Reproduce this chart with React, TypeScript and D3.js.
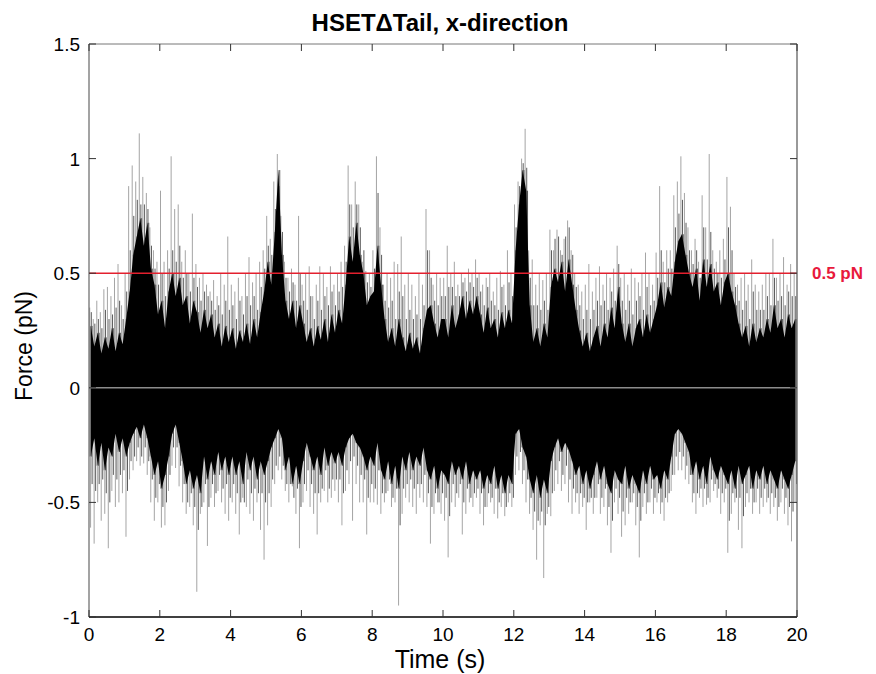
import React from "react";
import * as d3 from "d3";

const BIN_S = 0.1;
const xTicks = [0, 2, 4, 6, 8, 10, 12, 14, 16, 18, 20];
const yTicks = [-1, -0.5, 0, 0.5, 1, 1.5];
const yTickLabels = ["-1", "-0.5", "0", "0.5", "1", "1.5"];
const threshold = 0.5;

// dense core envelope (upper / lower) per 0.1 s bin
const coreHi = [
  0.27, 0.18, 0.24, 0.15, 0.22, 0.17, 0.26, 0.16, 0.24, 0.19,
  0.3, 0.42, 0.58, 0.66, 0.74, 0.62, 0.72, 0.52, 0.45, 0.32,
  0.38, 0.26, 0.42, 0.5, 0.4, 0.48, 0.36, 0.4, 0.28, 0.38,
  0.33, 0.24, 0.34, 0.26, 0.32, 0.22, 0.28, 0.18, 0.27, 0.2,
  0.26, 0.17, 0.25, 0.2, 0.28, 0.19, 0.3, 0.22, 0.33, 0.42,
  0.55, 0.45, 0.68, 0.95, 0.58, 0.38, 0.3, 0.38, 0.26, 0.36,
  0.28, 0.2, 0.26, 0.18, 0.27, 0.21, 0.3, 0.2, 0.32, 0.24,
  0.34, 0.28, 0.45, 0.66, 0.55, 0.72, 0.58, 0.5, 0.36, 0.4,
  0.42, 0.62, 0.45, 0.3, 0.2, 0.26, 0.18, 0.3, 0.22, 0.16,
  0.24, 0.17, 0.22, 0.15, 0.26, 0.34, 0.36, 0.28, 0.22, 0.3,
  0.3, 0.22, 0.36, 0.26, 0.32, 0.4, 0.3, 0.38, 0.32, 0.4,
  0.32, 0.24, 0.35, 0.26, 0.3, 0.22, 0.33, 0.26, 0.34, 0.28,
  0.6, 0.8, 0.95, 0.86, 0.36, 0.2, 0.26, 0.18, 0.28, 0.22,
  0.44, 0.52, 0.46, 0.55, 0.42, 0.56, 0.45, 0.34, 0.25, 0.18,
  0.24, 0.16, 0.22, 0.27, 0.18, 0.28, 0.22, 0.35, 0.26, 0.44,
  0.28, 0.2, 0.28, 0.18, 0.26, 0.3, 0.22, 0.32, 0.24, 0.3,
  0.36, 0.46, 0.35, 0.44, 0.4, 0.55, 0.64, 0.67, 0.58, 0.5,
  0.44, 0.52, 0.38, 0.56, 0.44, 0.54, 0.42, 0.46, 0.36, 0.46,
  0.5, 0.42, 0.36, 0.28, 0.22, 0.27, 0.18, 0.28, 0.2, 0.26,
  0.22, 0.3, 0.24, 0.36, 0.26, 0.3, 0.22, 0.32, 0.26, 0.3,
];
const coreLo = [
  -0.3, -0.22, -0.34, -0.24, -0.36, -0.26, -0.3, -0.2, -0.28, -0.22,
  -0.3, -0.24, -0.2, -0.17, -0.22, -0.16, -0.22, -0.3, -0.38, -0.32,
  -0.44, -0.38, -0.3, -0.2, -0.16, -0.24, -0.32, -0.42, -0.36, -0.44,
  -0.38, -0.46, -0.3, -0.4, -0.32, -0.38, -0.28, -0.36, -0.3, -0.38,
  -0.3, -0.38, -0.32, -0.42, -0.28, -0.36, -0.3, -0.4, -0.32, -0.38,
  -0.32, -0.26, -0.22, -0.18, -0.22, -0.36, -0.3, -0.42, -0.34, -0.42,
  -0.32, -0.24, -0.3, -0.36, -0.3, -0.38, -0.26, -0.34, -0.28, -0.33,
  -0.28, -0.34, -0.26, -0.22, -0.2, -0.24, -0.26, -0.3, -0.36, -0.3,
  -0.34, -0.24, -0.36, -0.4, -0.32, -0.42, -0.34, -0.44, -0.3, -0.36,
  -0.28, -0.36, -0.3, -0.34, -0.26, -0.36, -0.4, -0.34, -0.44, -0.36,
  -0.38, -0.42, -0.32, -0.38, -0.34, -0.4, -0.32, -0.42, -0.36, -0.4,
  -0.36, -0.44, -0.38, -0.42, -0.34, -0.44, -0.38, -0.46, -0.38, -0.42,
  -0.2, -0.18, -0.26, -0.3, -0.4, -0.46, -0.38, -0.48, -0.4, -0.46,
  -0.32, -0.26, -0.22, -0.28, -0.24, -0.27, -0.32, -0.38, -0.34, -0.42,
  -0.36, -0.44, -0.38, -0.32, -0.4, -0.34, -0.42, -0.46, -0.36, -0.4,
  -0.42, -0.34, -0.44, -0.38, -0.42, -0.46, -0.36, -0.42, -0.34, -0.4,
  -0.38, -0.44, -0.36, -0.4, -0.3, -0.2, -0.18, -0.2, -0.24, -0.28,
  -0.38, -0.32, -0.4, -0.34, -0.42, -0.3, -0.36, -0.4, -0.34, -0.38,
  -0.42, -0.36, -0.44, -0.34, -0.42, -0.38, -0.34, -0.44, -0.36, -0.4,
  -0.34, -0.42, -0.36, -0.4, -0.44, -0.36, -0.4, -0.44, -0.38, -0.32,
];
// frequent mid-length excursions per bin
const hairHi = [
  0.33, 0.28, 0.3, 0.26, 0.34, 0.3, 0.32, 0.35, 0.38, 0.3,
  0.42, 0.6, 0.75, 0.82, 0.8, 0.8, 0.78, 0.62, 0.52, 0.45,
  0.5, 0.4, 0.52, 0.6, 0.55, 0.62, 0.48, 0.5, 0.42, 0.48,
  0.44, 0.38, 0.42, 0.4, 0.38, 0.34, 0.36, 0.32, 0.38, 0.34,
  0.36, 0.3, 0.38, 0.32, 0.4, 0.36, 0.4, 0.34, 0.44, 0.52,
  0.62, 0.58, 0.78, 0.88, 0.68, 0.48, 0.42, 0.46, 0.38, 0.5,
  0.38, 0.34, 0.4, 0.3, 0.38, 0.34, 0.4, 0.36, 0.42, 0.36,
  0.42, 0.44, 0.55, 0.8, 0.7, 0.8, 0.7, 0.6, 0.46, 0.44,
  0.52, 0.85, 0.58, 0.38, 0.35, 0.38, 0.3, 0.42, 0.4, 0.3,
  0.34, 0.3, 0.32, 0.3, 0.36, 0.6, 0.48, 0.38, 0.36, 0.4,
  0.4, 0.44, 0.44, 0.4, 0.4, 0.46, 0.42, 0.46, 0.44, 0.48,
  0.42, 0.36, 0.44, 0.38, 0.36, 0.34, 0.44, 0.36, 0.46, 0.4,
  0.7, 0.88, 0.98, 0.96, 0.48, 0.36, 0.36, 0.34, 0.38, 0.34,
  0.6, 0.65, 0.66, 0.58, 0.66, 0.7, 0.58, 0.44, 0.36, 0.3,
  0.34, 0.3, 0.34, 0.38, 0.36, 0.38, 0.34, 0.42, 0.38, 0.54,
  0.38, 0.34, 0.38, 0.32, 0.38, 0.4, 0.34, 0.44, 0.36, 0.38,
  0.48, 0.6, 0.46, 0.52, 0.52, 0.7, 0.76, 0.82, 0.72, 0.6,
  0.54, 0.6, 0.48, 0.7, 0.56, 0.68, 0.52, 0.5, 0.48, 0.56,
  0.7, 0.6, 0.44, 0.38, 0.34, 0.38, 0.3, 0.42, 0.34, 0.34,
  0.34, 0.4, 0.36, 0.48, 0.38, 0.4, 0.36, 0.42, 0.4, 0.4,
];
const hairLo = [
  -0.42, -0.45, -0.42, -0.4, -0.46, -0.5, -0.38, -0.4, -0.38, -0.36,
  -0.45, -0.32, -0.3, -0.26, -0.3, -0.26, -0.32, -0.4, -0.48, -0.42,
  -0.52, -0.5, -0.38, -0.26, -0.26, -0.34, -0.42, -0.5, -0.46, -0.52,
  -0.62, -0.52, -0.42, -0.52, -0.42, -0.46, -0.38, -0.44, -0.42, -0.48,
  -0.42, -0.46, -0.5, -0.5, -0.4, -0.46, -0.44, -0.46, -0.46, -0.5,
  -0.46, -0.4, -0.34, -0.3, -0.34, -0.42, -0.42, -0.48, -0.44, -0.52,
  -0.42, -0.36, -0.42, -0.46, -0.46, -0.44, -0.36, -0.44, -0.4, -0.4,
  -0.4, -0.46, -0.36, -0.32, -0.3, -0.34, -0.38, -0.4, -0.48, -0.42,
  -0.44, -0.36, -0.46, -0.46, -0.4, -0.48, -0.44, -0.6, -0.44, -0.42,
  -0.4, -0.44, -0.42, -0.42, -0.38, -0.46, -0.52, -0.46, -0.5, -0.46,
  -0.48, -0.56, -0.42, -0.46, -0.42, -0.5, -0.44, -0.48, -0.46, -0.44,
  -0.46, -0.52, -0.46, -0.48, -0.44, -0.5, -0.46, -0.52, -0.46, -0.48,
  -0.3, -0.28, -0.36, -0.4, -0.48, -0.54, -0.58, -0.54, -0.6, -0.52,
  -0.46, -0.36, -0.32, -0.38, -0.34, -0.4, -0.44, -0.46, -0.46, -0.48,
  -0.5, -0.48, -0.48, -0.42, -0.48, -0.44, -0.52, -0.58, -0.44, -0.48,
  -0.54, -0.48, -0.5, -0.46, -0.52, -0.58, -0.46, -0.5, -0.44, -0.48,
  -0.46, -0.5, -0.48, -0.46, -0.38, -0.3, -0.28, -0.3, -0.34, -0.38,
  -0.46, -0.46, -0.44, -0.44, -0.48, -0.4, -0.42, -0.44, -0.46, -0.44,
  -0.58, -0.46, -0.48, -0.48, -0.56, -0.46, -0.44, -0.5, -0.44, -0.48,
  -0.44, -0.48, -0.46, -0.48, -0.52, -0.44, -0.48, -0.52, -0.54, -0.42,
];
// sparse extreme excursions per bin
const spikeHi = [
  0.35, 0.3, 0.38, 0.33, 0.43, 0.44, 0.4, 0.48, 0.54, 0.36,
  0.5, 0.88, 0.97, 0.9, 1.11, 0.92, 0.85, 0.7, 0.6, 0.55,
  0.86, 0.55, 0.6, 1.01, 0.78, 0.8, 0.55, 0.6, 0.5, 0.76,
  0.54, 0.48, 0.5, 0.45, 0.42, 0.47, 0.4, 0.5, 0.45, 0.66,
  0.45, 0.42, 0.48, 0.4, 0.5, 0.57, 0.46, 0.5, 0.55, 0.6,
  0.75, 0.65, 0.9, 1.02, 0.75, 0.55, 0.48, 0.52, 0.45, 0.75,
  0.45, 0.5, 0.53, 0.4, 0.45, 0.53, 0.5, 0.44, 0.53, 0.45,
  0.5, 0.55, 0.62, 0.97, 0.8, 0.9, 0.8, 0.55, 0.51, 0.5,
  0.6, 1.01, 0.7, 0.45, 0.5, 0.48, 0.55, 0.54, 0.66, 0.45,
  0.5, 0.45, 0.4, 0.5, 0.45, 0.78, 0.6, 0.45, 0.5, 0.48,
  0.48, 0.62, 0.5, 0.55, 0.45, 0.5, 0.48, 0.52, 0.5, 0.56,
  0.5, 0.45, 0.48, 0.5, 0.42, 0.48, 0.51, 0.45, 0.6, 0.5,
  0.8, 0.9, 1.0, 1.13, 0.6, 0.56, 0.45, 0.5, 0.47, 0.5,
  0.69, 0.6, 0.69, 0.6, 0.65, 0.73, 0.6, 0.5, 0.45, 0.42,
  0.45, 0.54, 0.42, 0.48, 0.53, 0.45, 0.5, 0.48, 0.52, 0.62,
  0.48, 0.5, 0.45, 0.52, 0.48, 0.46, 0.5, 0.59, 0.5, 0.45,
  0.59, 0.88, 0.55, 0.6, 0.6, 0.84, 0.9, 1.01, 0.85, 0.7,
  0.6, 0.65, 0.55, 0.84, 0.7, 1.02, 0.6, 0.55, 0.6, 0.65,
  0.92, 0.79, 0.5, 0.45, 0.48, 0.5, 0.45, 0.56, 0.45, 0.42,
  0.45, 0.5, 0.5, 0.65, 0.48, 0.5, 0.57, 0.45, 0.54, 0.5,
];
const spikeLo = [
  -0.61, -0.68, -0.5, -0.58, -0.55, -0.7, -0.45, -0.52, -0.5, -0.46,
  -0.65, -0.4, -0.36, -0.32, -0.34, -0.33, -0.38, -0.5, -0.58, -0.5,
  -0.61, -0.6, -0.45, -0.34, -0.35, -0.43, -0.5, -0.55, -0.52, -0.6,
  -0.89, -0.55, -0.5, -0.69, -0.48, -0.52, -0.45, -0.5, -0.55, -0.58,
  -0.5, -0.55, -0.64, -0.48, -0.52, -0.55, -0.58, -0.5, -0.62, -0.75,
  -0.6, -0.52, -0.42, -0.36, -0.4, -0.45, -0.5, -0.43, -0.55, -0.7,
  -0.5, -0.45, -0.52, -0.55, -0.64, -0.5, -0.45, -0.5, -0.48, -0.45,
  -0.5, -0.6, -0.45, -0.42, -0.58, -0.42, -0.5, -0.5, -0.64, -0.5,
  -0.5, -0.51, -0.55, -0.5, -0.45, -0.52, -0.5, -0.95, -0.55, -0.48,
  -0.5, -0.52, -0.55, -0.48, -0.5, -0.52, -0.68, -0.55, -0.5, -0.55,
  -0.58, -0.74, -0.5, -0.52, -0.48, -0.64, -0.55, -0.5, -0.52, -0.48,
  -0.55, -0.6, -0.52, -0.5, -0.55, -0.57, -0.52, -0.56, -0.5, -0.52,
  -0.38, -0.36, -0.42, -0.5, -0.55, -0.62, -0.75, -0.6, -0.83, -0.55,
  -0.56, -0.45, -0.42, -0.45, -0.42, -0.5, -0.55, -0.5, -0.55, -0.52,
  -0.62, -0.5, -0.55, -0.48, -0.55, -0.52, -0.6, -0.72, -0.5, -0.55,
  -0.65, -0.6, -0.55, -0.5, -0.6, -0.74, -0.52, -0.55, -0.5, -0.55,
  -0.5, -0.55, -0.58, -0.5, -0.45, -0.38, -0.36, -0.36, -0.4, -0.42,
  -0.5, -0.55, -0.48, -0.52, -0.51, -0.5, -0.45, -0.48, -0.55, -0.5,
  -0.72, -0.55, -0.5, -0.62, -0.7, -0.52, -0.5, -0.55, -0.5, -0.55,
  -0.52, -0.5, -0.55, -0.52, -0.58, -0.5, -0.55, -0.6, -0.67, -0.5,
];

const W = 876;
const H = 674;
const L = 89, R = 797, T = 44, B = 617;
const FONT = "'Liberation Sans', Arial, Helvetica, sans-serif";

type Seg = { t: number; a: number; b: number; c: string; w: number };

export default function App() {
  const x = d3.scaleLinear().domain([0, 20]).range([L, R]);
  const y = d3.scaleLinear().domain([-1, 1.5]).range([B, T]);
  const n = coreHi.length;
  const pts = d3.range(n).map((i) => ({
    t: (i + 0.5) * BIN_S,
    hi: coreHi[i],
    lo: coreLo[i],
  }));
  const area = d3
    .area<{ t: number; hi: number; lo: number }>()
    .x((d) => x(d.t))
    .y0((d) => y(d.lo))
    .y1((d) => y(d.hi))
    .curve(d3.curveLinear);

  const segs: Seg[] = [];
  d3.range(n).forEach((i) => {
    const t0 = i * BIN_S;
    segs.push({ t: t0 + 0.02, a: coreLo[i], b: spikeHi[i], c: "#7c7c7c", w: 0.7 });
    segs.push({ t: t0 + 0.045, a: coreHi[i], b: spikeLo[i], c: "#7c7c7c", w: 0.7 });
    segs.push({ t: t0 + 0.065, a: coreLo[i], b: hairHi[i], c: "#262626", w: 0.75 });
    segs.push({ t: t0 + 0.088, a: coreHi[i], b: hairLo[i], c: "#262626", w: 0.75 });
  });

  const tickLen = 7;
  return (
    <svg
      width={W}
      height={H}
      style={{ position: "absolute", left: 0, top: 0, background: "#fff" }}
    >
      <defs>
        <clipPath id="plot">
          <rect x={L} y={T} width={R - L} height={B - T} />
        </clipPath>
      </defs>
      <g clipPath="url(#plot)">
        {segs.map((s, k) => (
          <line
            key={k}
            x1={x(s.t)}
            x2={x(s.t)}
            y1={y(s.a)}
            y2={y(s.b)}
            stroke={s.c}
            strokeWidth={s.w}
          />
        ))}
        <path d={area(pts) || ""} fill="#000" />
        <line x1={L} x2={R} y1={y(0)} y2={y(0)} stroke="#8c8c8c" strokeWidth={1.6} />
        <line x1={L} x2={R} y1={y(threshold)} y2={y(threshold)} stroke="#e3202e" strokeWidth={1.5} />
      </g>
      {/* frame */}
      <line x1={L} x2={R} y1={T} y2={T} stroke="#777" strokeWidth={1} />
      <line x1={R} x2={R} y1={T} y2={B} stroke="#777" strokeWidth={1.5} />
      <line x1={L} x2={L} y1={T} y2={B} stroke="#666" strokeWidth={1.2} />
      <line x1={L} x2={R} y1={B} y2={B} stroke="#000" strokeWidth={1.3} />
      {/* x ticks */}
      {xTicks.map((v) => (
        <g key={"x" + v}>
          <line x1={x(v)} x2={x(v)} y1={B} y2={B - tickLen} stroke="#333" strokeWidth={1} />
          <line x1={x(v)} x2={x(v)} y1={T} y2={T + tickLen} stroke="#333" strokeWidth={1} />
          <text x={x(v)} y={641} textAnchor="middle" fontFamily={FONT} fontSize={19} fill="#000">
            {v}
          </text>
        </g>
      ))}
      {/* y ticks */}
      {yTicks.map((v, i) => (
        <g key={"y" + v}>
          <line x1={L} x2={L + tickLen} y1={y(v)} y2={y(v)} stroke="#333" strokeWidth={1} />
          <line x1={R} x2={R - tickLen} y1={y(v)} y2={y(v)} stroke="#333" strokeWidth={1} />
          <text x={80} y={y(v) + 7} textAnchor="end" fontFamily={FONT} fontSize={19} fill="#000">
            {yTickLabels[i]}
          </text>
        </g>
      ))}
      <text x={812} y={y(threshold) + 6} fontFamily={FONT} fontWeight="bold" fontSize={17} fill="#e8193c">
        0.5 pN
      </text>
      <text x={440} y={31} textAnchor="middle" fontFamily={FONT} fontWeight="bold" fontSize={24} fill="#000">
        HSETΔTail, x-direction
      </text>
      <text x={440} y={668} textAnchor="middle" fontFamily={FONT} fontSize={25} fill="#000">
        Time (s)
      </text>
      <text
        transform={`translate(32, 346) rotate(-90)`}
        textAnchor="middle"
        fontFamily={FONT}
        fontSize={23}
        fill="#000"
      >
        Force (pN)
      </text>
    </svg>
  );
}
